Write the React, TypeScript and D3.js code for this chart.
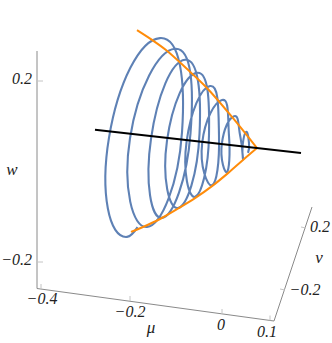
import React from 'react';
import * as d3 from 'd3';

const width = 332;
const height = 343;

// spiral as (mu, w) in the plane of the black line
const helixMu = [
  -0.2075, -0.325, -0.37, -0.2425, -0.1875, -0.275, -0.3175, -0.205, -0.16625,
  -0.2375, -0.265, -0.18, -0.14375, -0.1975, -0.225, -0.15, -0.12, -0.155,
  -0.176, -0.1175, -0.095, -0.1125, -0.137, -0.0875, -0.07, -0.075,
  -0.088, -0.0575, -0.04125, -0.035, -0.036, -0.0275, -0.02, -0.0225,
];
const helixW = [
  0.017, -0.23, -0.014, 0.22, 0.016, -0.203, -0.01, 0.2, 0.016,
  -0.179, -0.006, 0.178, 0.017, -0.153, -0.006, 0.152, 0.017, -0.124,
  -0.003, 0.126, 0.018, -0.094, -0.002, 0.098, 0.02, -0.061,
  0, 0.065, 0.019, -0.028, 0.002, 0.033, 0.009, -0.013,
];

// envelope
const upperMu = [-0.3, -0.2625, -0.2275, -0.1775, -0.1275, -0.0625, 0];
const upperW = [0.232, 0.214, 0.195, 0.16, 0.123, 0.063, 0];
const lowerMu = [-0.315, -0.285, -0.2425, -0.2, -0.155, -0.1125, -0.0725, -0.035, 0];
const lowerW = [-0.218, -0.204, -0.182, -0.156, -0.127, -0.096, -0.063, -0.03, 0];

// equilibrium line
const axisLineMu = [-0.405, 0.11];

const muTicks = [-0.4, -0.2, 0, 0.1];
const vTicks = [-0.2, 0.2];
const wTicks = [-0.2, 0.2];

// plane of the curves
const curveX = d3.scaleLinear().domain([-0.4, 0.11]).range([97, 301]);
const curveY = d3.scaleLinear().domain([-0.4, 0.11]).range([130, 153]);
const curveW = d3.scaleLinear().domain([-0.2, 0.2]).range([90, -90]);

// box edges, the perspective makes these slightly uneven
const muAxisX = d3.scaleLinear().domain(muTicks).range([41, 130, 222, 270]);
const muAxisY = d3.scaleLinear().domain(muTicks).range([289, 301, 314, 320.5]);
const vAxisX = d3.scaleLinear().domain(vTicks).range([285, 306]);
const vAxisY = d3.scaleLinear().domain(vTicks).range([290, 228]);
const wAxisY = d3.scaleLinear().domain(wTicks).range([262, 81]);

const toPoints = (mu: number[], w: number[]): [number, number][] =>
  mu.map((m, i) => [curveX(m), curveY(m) + curveW(w[i])]);

const helixLine = d3.line().curve(d3.curveCardinal.tension(-0.656));
const envelopeLine = d3.line().curve(d3.curveCatmullRom);

const fmt = (t: number) => (t === 0 ? '0' : String(t).replace('-', '\u2212'));

const labelStyle: React.CSSProperties = {
  fontFamily: '"Liberation Serif", serif',
  fontStyle: 'italic',
  fontSize: 16,
  fill: '#222',
};
const nameStyle: React.CSSProperties = { ...labelStyle, fontSize: 17 };

const muLabelPos: [number, number][] = [[42, 304], [130, 317], [221, 330], [267, 337]];
const vLabelPos: [number, number][] = [[305, 295], [320, 232]];

export default function App() {
  const axisColor = '#8a8a8a';
  const tickColor = '#c4c4c4';
  return (
    <svg
      width={width}
      height={height}
      style={{ position: 'absolute', left: 0, top: 0, background: '#fff' }}
    >
      {/* box edges */}
      <path d="M37,51V288.5L274,321L312,207" fill="none" stroke={axisColor} strokeWidth={1} />

      {wTicks.map(t => (
        <line key={t} x1={37} x2={43} y1={wAxisY(t)} y2={wAxisY(t)} stroke={tickColor} />
      ))}
      {muTicks.map(t => (
        <line
          key={t}
          x1={muAxisX(t)}
          x2={muAxisX(t)}
          y1={muAxisY(t)}
          y2={muAxisY(t) - 5}
          stroke={tickColor}
        />
      ))}
      {vTicks.map(t => (
        <line
          key={t}
          x1={vAxisX(t)}
          x2={vAxisX(t) - 5}
          y1={vAxisY(t)}
          y2={vAxisY(t) - 1}
          stroke={tickColor}
        />
      ))}

      {/* curves; the first stretch of the spiral only sets its direction, so it stays hidden */}
      <path
        d={helixLine(toPoints(helixMu, helixW)) ?? ''}
        fill="none"
        stroke="#5e81b5"
        strokeWidth={2.1}
        pathLength={1000}
        strokeDasharray="0 49 1000"
      />
      <path
        d={envelopeLine(toPoints(upperMu, upperW)) ?? ''}
        fill="none"
        stroke="#ff8c0a"
        strokeWidth={2}
      />
      <path
        d={envelopeLine(toPoints(lowerMu, lowerW)) ?? ''}
        fill="none"
        stroke="#ff8c0a"
        strokeWidth={2}
      />
      <path
        d={d3.line()(axisLineMu.map(m => [curveX(m), curveY(m)])) ?? ''}
        fill="none"
        stroke="#000"
        strokeWidth={2}
      />

      {/* labels */}
      {wTicks.map(t => (
        <text key={t} x={32} y={wAxisY(t) + 3} textAnchor="end" style={labelStyle}>
          {fmt(t)}
        </text>
      ))}
      {muTicks.map((t, i) => (
        <text key={t} x={muLabelPos[i][0]} y={muLabelPos[i][1]} textAnchor="middle" style={labelStyle}>
          {fmt(t)}
        </text>
      ))}
      {vTicks.map((t, i) => (
        <text key={t} x={vLabelPos[i][0]} y={vLabelPos[i][1]} textAnchor="middle" style={labelStyle}>
          {fmt(t)}
        </text>
      ))}
      <text x={12} y={175} textAnchor="middle" style={nameStyle}>w</text>
      <text x={151} y={333} textAnchor="middle" style={nameStyle}>μ</text>
      <text x={319} y={263} textAnchor="middle" style={nameStyle}>v</text>
    </svg>
  );
}
